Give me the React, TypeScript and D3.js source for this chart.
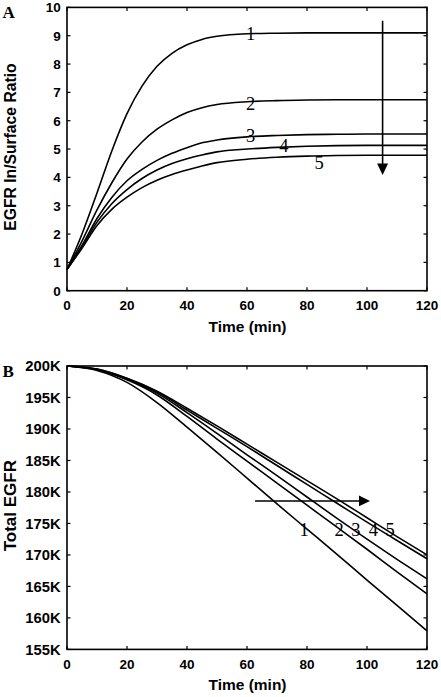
import React from "react";
import * as d3 from "d3";

// ---------- Data ----------
const timeA = [0, 5, 10, 15, 20, 25, 30, 35, 40, 45, 50, 60, 70, 80, 90, 100, 110, 120];
const ratio1 = [0.75, 2.0, 3.45, 4.95, 6.25, 7.22, 7.92, 8.38, 8.68, 8.87, 8.98, 9.07, 9.09, 9.1, 9.1, 9.1, 9.1, 9.1];
const ratio2 = [0.75, 1.75, 2.85, 3.82, 4.65, 5.25, 5.7, 6.03, 6.29, 6.46, 6.57, 6.67, 6.71, 6.73, 6.74, 6.74, 6.74, 6.74];
const ratio3 = [0.75, 1.6, 2.55, 3.3, 3.88, 4.28, 4.6, 4.85, 5.05, 5.22, 5.32, 5.43, 5.48, 5.51, 5.52, 5.53, 5.53, 5.53];
const ratio4 = [0.75, 1.55, 2.42, 3.08, 3.57, 3.96, 4.26, 4.49, 4.66, 4.79, 4.9, 5.0, 5.06, 5.1, 5.12, 5.13, 5.13, 5.13];
const ratio5 = [0.75, 1.5, 2.3, 2.88, 3.3, 3.64, 3.9, 4.1, 4.26, 4.4, 4.52, 4.64, 4.71, 4.75, 4.77, 4.78, 4.78, 4.78];

const timeB = [0, 10, 20, 30, 40, 50, 60, 70, 80, 90, 100, 110, 120];
const total1 = [200, 199.3, 197.4, 194.2, 190.3, 186.3, 182.2, 178.1, 174.1, 170.1, 166.0, 162.0, 157.95];
const total2 = [200, 199.4, 197.8, 195.4, 192.0, 188.4, 184.9, 181.4, 177.9, 174.4, 170.9, 167.3, 163.8];
const total3 = [200, 199.45, 197.9, 195.7, 192.6, 189.3, 185.9, 182.6, 179.2, 175.8, 172.5, 169.3, 166.2];
const total4 = [200, 199.5, 198.0, 195.9, 193.0, 190.1, 187.2, 184.2, 181.2, 178.2, 175.2, 172.3, 169.4];
const total5 = [200, 199.5, 198.05, 196.0, 193.3, 190.5, 187.6, 184.7, 181.8, 178.9, 175.9, 172.9, 170.0];

const xTicks = [0, 20, 40, 60, 80, 100, 120];
const yTicksA = [0, 1, 2, 3, 4, 5, 6, 7, 8, 9, 10];
const yTicksB = [155, 160, 165, 170, 175, 180, 185, 190, 195, 200];
const seriesLabels = ["1", "2", "3", "4", "5"];

// label anchors in data units (time, value)
const labelPosA = [[61.2, 9.09], [61.2, 6.61], [61.2, 5.46], [72.3, 5.14], [84, 4.52]];
const labelPosB = [[79, 174.1], [90.7, 174.1], [96.3, 174.1], [102.1, 174.1], [107.7, 174.1]];
const arrowA = { t: 105.2, from: 9.53, to: 4.08 };
const arrowB = { v: 178.57, from: 62.7, to: 101 };

// ---------- Layout ----------
const W = 441;
const H = 697;
const left = 67;
const right = 427;
const topA = 7.4;
const botA = 290.7;
const topB = 366;
const botB = 649.4;

const sansBold = { fontFamily: "'Liberation Sans', Arial, sans-serif", fontWeight: 700 };
const serif = { fontFamily: "'Liberation Serif', 'Times New Roman', serif" };

function Panel({ xs, ys, seriesX, series, yTicks, yFmt, yTickSize, yTitle, yTitleSize, letter, labels, labelPos, top, bottom }) {
  const line = d3
    .line()
    .x((d) => xs(d[0]))
    .y((d) => ys(d[1]))
    .curve(d3.curveMonotoneX);
  const tl = 3.5;
  return (
    <g>
      {series.map((s, i) => (
        <path
          key={i}
          d={line(seriesX.map((t, j) => [t, s[j]]))}
          fill="none"
          stroke="#000"
          strokeWidth={1.6}
        />
      ))}
      {/* frame */}
      <rect x={left} y={top} width={right - left} height={bottom - top} fill="none" stroke="#000" strokeWidth={1.6} />
      {/* x ticks */}
      {xTicks.map((t) => (
        <g key={"x" + t}>
          <line x1={xs(t)} x2={xs(t)} y1={bottom} y2={bottom - tl} stroke="#000" strokeWidth={1.2} />
          <line x1={xs(t)} x2={xs(t)} y1={top} y2={top + tl} stroke="#000" strokeWidth={1.2} />
          <text x={xs(t)} y={bottom + 19.3} textAnchor="middle" fontSize={13.5} {...sansBold}>
            {t}
          </text>
        </g>
      ))}
      {/* y ticks */}
      {yTicks.map((v) => (
        <g key={"y" + v}>
          <line x1={left} x2={left + tl} y1={ys(v)} y2={ys(v)} stroke="#000" strokeWidth={1.2} />
          <line x1={right} x2={right - tl} y1={ys(v)} y2={ys(v)} stroke="#000" strokeWidth={1.2} />
          <text x={60.7} y={ys(v)} dy="0.36em" textAnchor="end" fontSize={yTickSize} {...sansBold}>
            {yFmt(v)}
          </text>
        </g>
      ))}
      <text x={(left + right) / 2 + 0.5} y={bottom + 41} textAnchor="middle" fontSize={15.5} {...sansBold}>
        Time (min)
      </text>
      <text
        transform={`translate(15.5,${(top + bottom) / 2 - 2}) rotate(-90)`}
        textAnchor="middle"
        fontSize={yTitleSize}
        {...sansBold}
      >
        {yTitle}
      </text>
      <text x={2.5} y={top + 11} fontSize={17} fontWeight={700} {...serif}>
        {letter}
      </text>
      {labels.map((lab, i) => (
        <text
          key={"l" + i}
          x={xs(labelPos[i][0])}
          y={ys(labelPos[i][1])}
          dy="0.35em"
          textAnchor="middle"
          fontSize={18.5}
          {...serif}
        >
          {lab}
        </text>
      ))}
    </g>
  );
}

export default function App() {
  const xA = d3.scaleLinear().domain([0, 120]).range([left, right]);
  const yA = d3.scaleLinear().domain([0, 10]).range([botA, topA]);
  const xB = d3.scaleLinear().domain([0, 120]).range([left, right]);
  const yB = d3.scaleLinear().domain([155, 200]).range([botB, topB]);

  const ax = xA(arrowA.t);
  const ay1 = yA(arrowA.from);
  const ay2 = yA(arrowA.to);
  const by = yB(arrowB.v);
  const bx1 = xB(arrowB.from);
  const bx2 = xB(arrowB.to);

  return (
    <svg width={W} height={H} style={{ position: "absolute", left: 0, top: 0, background: "#fff" }}>
      <rect x={0} y={0} width={W} height={H} fill="#fff" />
      <Panel
        xs={xA}
        ys={yA}
        seriesX={timeA}
        series={[ratio1, ratio2, ratio3, ratio4, ratio5]}
        yTicks={yTicksA}
        yFmt={(v) => String(v)}
        yTickSize={13.5}
        yTitle="EGFR In/Surface Ratio"
        yTitleSize={15.7}
        letter="A"
        labels={seriesLabels}
        labelPos={labelPosA}
        top={topA}
        bottom={botA}
      />
      <Panel
        xs={xB}
        ys={yB}
        seriesX={timeB}
        series={[total1, total2, total3, total4, total5]}
        yTicks={yTicksB}
        yFmt={(v) => v + "K"}
        yTickSize={14.8}
        yTitle="Total EGFR"
        yTitleSize={17}
        letter="B"
        labels={seriesLabels}
        labelPos={labelPosB}
        top={topB}
        bottom={botB}
      />
      {/* arrow A */}
      <line x1={ax} x2={ax} y1={ay1} y2={ay2 - 10} stroke="#000" strokeWidth={1.6} />
      <path d={`M${ax - 5.5},${ay2 - 11.7} L${ax + 5.5},${ay2 - 11.7} L${ax},${ay2} Z`} fill="#000" />
      {/* arrow B */}
      <line x1={bx1} x2={bx2 - 10} y1={by} y2={by} stroke="#000" strokeWidth={1.6} />
      <path d={`M${bx2 - 11},${by - 5.4} L${bx2 - 11},${by + 5.4} L${bx2},${by} Z`} fill="#000" />
    </svg>
  );
}
